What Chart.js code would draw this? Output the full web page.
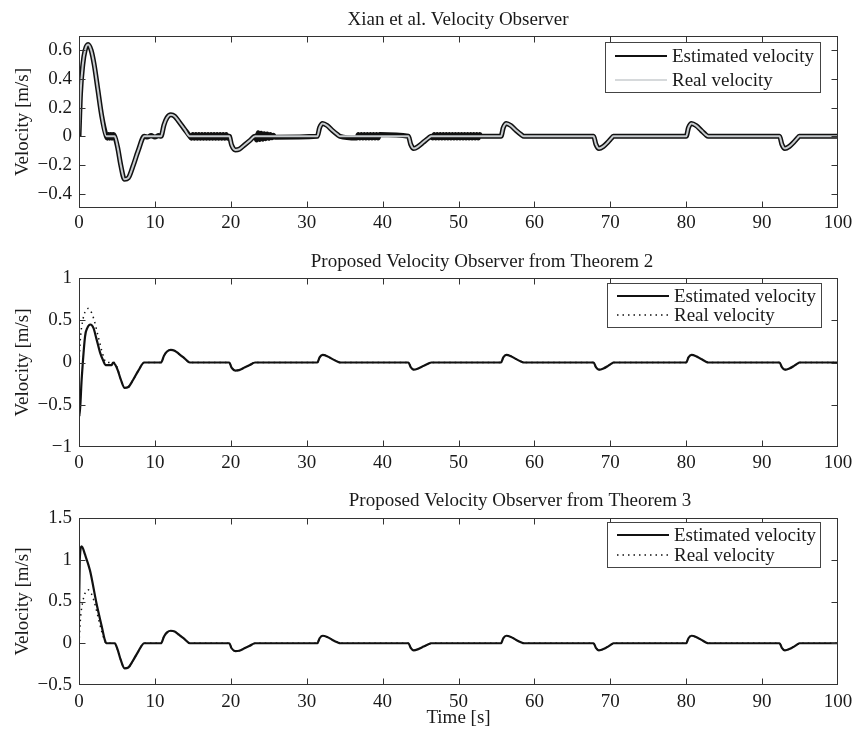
<!DOCTYPE html>
<html>
<head>
<meta charset="utf-8">
<script src="https://cdn.jsdelivr.net/npm/chart.js@4.4.1/dist/chart.umd.min.js"></script>
<style>
  body { margin: 0; background: #fff; }
  #wrap { position: relative; width: 852px; height: 729px; }
  canvas { position: absolute; left: 0; }
</style>
</head>
<body>
<div id="wrap">
  <canvas id="c1" width="852" height="240" style="top:0px"></canvas>
  <canvas id="c2" width="852" height="250" style="top:240px"></canvas>
  <canvas id="c3" width="852" height="259" style="top:470px"></canvas>
</div>
<script>
const titles = [
  "Xian et al. Velocity Observer",
  "Proposed Velocity Observer from Theorem 2",
  "Proposed Velocity Observer from Theorem 3"
];
const seriesNames = ["Estimated velocity", "Real velocity"];
const yLabel = "Velocity [m/s]";
const xLabel = "Time [s]";

const xTicks = [0, 10, 20, 30, 40, 50, 60, 70, 80, 90, 100];
const yTicks1 = [-0.4, -0.2, 0, 0.2, 0.4, 0.6];
const yTicks2 = [-1, -0.5, 0, 0.5, 1];
const yTicks3 = [-0.5, 0, 0.5, 1, 1.5];

// real velocity (same signal in all three plots)
const tReal = [
  0, 0.2, 0.5, 0.8, 1.2, 1.6, 2.0, 2.5, 3.0, 3.6,
  4.7, 5.1, 5.5, 6.0, 6.5, 7.1, 7.8, 8.6,
  10.8, 11.2, 11.6, 12.1, 12.6, 13.2, 13.9, 14.6,
  19.8, 20.1, 20.6, 21.1, 21.8, 22.5, 23.2,
  31.4, 31.7, 32.1, 32.7, 33.4, 34.1, 34.4,
  43.4, 43.7, 44.1, 44.7, 45.4, 46.1, 46.4,
  55.6, 55.9, 56.3, 56.9, 57.6, 58.3, 58.6,
  67.8, 68.1, 68.5, 69.1, 69.7, 70.2, 70.4,
  80.0, 80.3, 80.7, 81.3, 82.0, 82.6, 82.9,
  92.3, 92.6, 93.0, 93.6, 94.2, 94.7, 94.9,
  100
];
const vReal = [
  0, 0.3, 0.5, 0.6, 0.64, 0.6, 0.5, 0.32, 0.14, 0,
  0, -0.08, -0.2, -0.3, -0.29, -0.21, -0.1, 0,
  0, 0.08, 0.13, 0.15, 0.14, 0.1, 0.05, 0,
  0, -0.06, -0.095, -0.09, -0.06, -0.03, 0,
  0, 0.06, 0.09, 0.075, 0.04, 0.01, 0,
  0, -0.055, -0.085, -0.07, -0.04, -0.01, 0,
  0, 0.06, 0.09, 0.075, 0.04, 0.01, 0,
  0, -0.055, -0.085, -0.07, -0.04, -0.01, 0,
  0, 0.06, 0.09, 0.075, 0.04, 0.01, 0,
  0, -0.055, -0.085, -0.07, -0.04, -0.01, 0,
  0
];

// Xian observer: chattering around zero in the flat parts (one pair of arrays per stretch)
const tChatA = [3.75, 3.9, 4.05, 4.2, 4.35, 4.5];
const vChatA = [-0.013, 0.013, -0.013, 0.013, -0.013, 0.013];
const tChatB = [9.0, 9.5, 10.0, 10.5];
const vChatB = [-0.005, 0.005, -0.005, 0.005];
const tChatC = [14.8, 15.0, 15.2, 15.4, 15.6, 15.8, 16.0, 16.2, 16.4, 16.6, 16.8, 17.0, 17.2,
  17.4, 17.6, 17.8, 18.0, 18.2, 18.4, 18.6, 18.8, 19.0, 19.2, 19.4, 19.6];
const vChatC = [-0.013, 0.013, -0.013, 0.013, -0.013, 0.013, -0.013, 0.013, -0.013, 0.013, -0.013, 0.013, -0.013,
  0.013, -0.013, 0.013, -0.013, 0.013, -0.013, 0.013, -0.013, 0.013, -0.013, 0.013, -0.013];
const tChatD = [23.4, 23.6, 23.8, 24.0, 24.2, 24.4, 24.6, 24.8, 25.0, 25.2, 25.4, 25.6, 25.8];
const vChatD = [-0.025, 0.025, -0.022, 0.022, -0.02, 0.018, -0.016, 0.016, -0.014, 0.012, -0.01, 0.008, -0.006];
const tChatE = [36.6, 36.8, 37.0, 37.2, 37.4, 37.6, 37.8, 38.0, 38.2, 38.4, 38.6, 38.8, 39.0, 39.2, 39.4, 39.6];
const vChatE = [-0.012, 0.012, -0.012, 0.012, -0.012, 0.012, -0.012, 0.012, -0.012, 0.012, -0.012, 0.012, -0.012, 0.012, -0.012, 0.012];
const tChatF = [46.6, 46.8, 47.0, 47.2, 47.4, 47.6, 47.8, 48.0, 48.2, 48.4, 48.6, 48.8, 49.0, 49.2, 49.4, 49.6, 49.8,
  50.0, 50.2, 50.4, 50.6, 50.8, 51.0, 51.2, 51.4, 51.6, 51.8, 52.0, 52.2, 52.4, 52.6, 52.8, 53.0];
const vChatF = [-0.012, 0.012, -0.012, 0.012, -0.012, 0.012, -0.012, 0.012, -0.012, 0.012, -0.012, 0.012, -0.012, 0.012, -0.012, 0.012, -0.012,
  0.012, -0.012, 0.012, -0.012, 0.012, -0.012, 0.012, -0.012, 0.012, -0.012, 0.012, -0.012, 0.012, -0.012, 0.012, 0];

// Theorem 2 / 3 observers: transient at start, then they follow the real velocity
const tHead2 = [0, 0.06, 0.35, 0.8, 1.1, 1.5, 1.9, 2.3, 2.8, 3.2, 3.5, 4.3, 4.5, 4.8, 5.1];
const vHead2 = [-0.4, -0.64, -0.2, 0.31, 0.41, 0.45, 0.41, 0.28, 0.11, 0.02, -0.03, -0.03, 0, -0.03, -0.09];
const tHead3 = [0, 0.1, 0.35, 0.8, 1.45, 2.3, 3.0, 3.4, 3.6, 4.7, 5.1];
const vHead3 = [0.3, 1.0, 1.16, 1.06, 0.87, 0.48, 0.2, 0.04, 0, 0, -0.08];

const FONT = '"Liberation Serif", "Times New Roman", serif';
const TXT = "#1a1a1a";

function pts(t, v) {
  return t.map((x, i) => ({ x: x, y: v[i] }));
}

const realPts = pts(tReal, vReal);
const chatter = [].concat(
  pts(tChatA, vChatA), pts(tChatB, vChatB), pts(tChatC, vChatC),
  pts(tChatD, vChatD), pts(tChatE, vChatE), pts(tChatF, vChatF)
);
const est1 = realPts.concat(chatter).sort((a, b) => a.x - b.x);
const tailPts = realPts.filter(p => p.x >= 5.5);
const est2 = pts(tHead2, vHead2).concat(tailPts);
const est3 = pts(tHead3, vHead3).concat(tailPts);

const matlabPlugin = {
  id: "matlab",
  afterDraw(chart, args, o) {
    const ctx = chart.ctx;
    const a = chart.chartArea;
    const xs = chart.scales.x, ys = chart.scales.y;
    ctx.save();
    // box and inward ticks
    ctx.strokeStyle = "#333";
    ctx.lineWidth = 1;
    const L = Math.round(a.left) + 0.5, R = Math.round(a.right) - 0.5;
    const T = Math.round(a.top) + 0.5, B = Math.round(a.bottom) - 0.5;
    ctx.strokeRect(L, T, R - L, B - T);
    ctx.beginPath();
    xs.ticks.forEach(tk => {
      const px = Math.round(xs.getPixelForValue(tk.value)) + 0.5;
      if (px <= L + 1 || px >= R - 1) return;
      ctx.moveTo(px, B); ctx.lineTo(px, B - 6);
      ctx.moveTo(px, T); ctx.lineTo(px, T + 6);
    });
    ys.ticks.forEach(tk => {
      const py = Math.round(ys.getPixelForValue(tk.value)) + 0.5;
      if (py <= T + 1 || py >= B - 1) return;
      ctx.moveTo(L, py); ctx.lineTo(L + 6, py);
      ctx.moveTo(R, py); ctx.lineTo(R - 6, py);
    });
    ctx.stroke();

    // title
    ctx.fillStyle = TXT;
    ctx.font = "19px " + FONT;
    ctx.textAlign = "center";
    ctx.textBaseline = "alphabetic";
    ctx.fillText(o.title, o.titleX, o.titleY);

    // legend box
    const lg = o.legend;
    ctx.fillStyle = "#fff";
    ctx.fillRect(lg.x, lg.y, lg.w, lg.h);
    ctx.strokeStyle = "#444";
    ctx.lineWidth = 1;
    ctx.strokeRect(lg.x + 0.5, lg.y + 0.5, lg.w, lg.h);
    chart.data.datasets.forEach((ds, i) => {
      const yy = lg.y + lg.rows[i];
      ctx.beginPath();
      ctx.strokeStyle = ds.borderColor;
      ctx.lineWidth = lg.widths[i];
      ctx.setLineDash(ds.borderDash || []);
      ctx.moveTo(lg.x + 10, yy);
      ctx.lineTo(lg.x + 62, yy);
      ctx.stroke();
      ctx.setLineDash([]);
      ctx.fillStyle = TXT;
      ctx.textAlign = "left";
      ctx.textBaseline = "middle";
      ctx.fillText(ds.label, lg.x + 67, yy + 1);
    });
    ctx.restore();
  }
};

function makeChart(id, c) {
  return new Chart(document.getElementById(id), {
    type: "line",
    data: {
      datasets: [
        {
          label: seriesNames[0], data: c.est, borderColor: "#111",
          borderWidth: c.estWidth, pointRadius: 0,
          cubicInterpolationMode: "monotone", order: 1
        },
        {
          label: seriesNames[1], data: c.real, borderColor: c.realColor,
          borderWidth: c.realWidth, borderDash: c.realDash, pointRadius: 0,
          cubicInterpolationMode: "monotone", order: 0
        }
      ]
    },
    options: {
      responsive: false,
      animation: false,
      events: [],
      layout: { padding: { left: 0, right: 14, top: c.top, bottom: 0 } },
      plugins: {
        legend: { display: false },
        tooltip: { enabled: false },
        matlab: { title: c.title, titleX: c.titleX, titleY: c.titleY, legend: c.legend }
      },
      scales: {
        x: {
          type: "linear", min: 0, max: 100,
          afterBuildTicks: s => { s.ticks = xTicks.map(v => ({ value: v })); },
          afterFit: s => { s.height = c.h - c.bottom; s.paddingLeft = 0; s.paddingRight = 0; },
          grid: { display: false, drawTicks: false }, border: { display: false },
          ticks: { font: { family: FONT, size: 19 }, color: TXT, padding: c.xPad, maxRotation: 0 },
          title: c.xTitle
            ? { display: true, text: xLabel, font: { family: FONT, size: 19 }, color: TXT, padding: { top: 0, bottom: 0 } }
            : { display: false }
        },
        y: {
          min: c.yMin, max: c.yMax,
          afterBuildTicks: s => { s.ticks = c.yTicks.map(v => ({ value: v })); },
          afterFit: s => { s.width = 79; s.paddingTop = 0; s.paddingBottom = 0; },
          grid: { display: false, drawTicks: false }, border: { display: false },
          ticks: {
            font: { family: FONT, size: 19 }, color: TXT, padding: 7,
            callback: v => String(v).replace("-", "\u2212")
          },
          title: { display: true, text: yLabel, font: { family: FONT, size: 19 }, color: TXT, padding: { top: 12, bottom: 0 } }
        }
      }
    },
    plugins: [matlabPlugin]
  });
}

makeChart("c1", {
  est: est1, real: realPts, estWidth: 5, realWidth: 2, realColor: "#c8cccf", realDash: [],
  h: 240, top: 36, bottom: 208, xPad: 4, xTitle: false,
  yMin: -0.5, yMax: 0.7, yTicks: yTicks1,
  title: titles[0], titleX: 458, titleY: 25,
  legend: { x: 605, y: 42, w: 215, h: 50, rows: [14, 38], widths: [2.2, 1.5] }
});
makeChart("c2", {
  est: est2, real: realPts, estWidth: 2.2, realWidth: 1.5, realColor: "#111", realDash: [1.5, 4],
  h: 250, top: 38, bottom: 207, xPad: 5, xTitle: false,
  yMin: -1, yMax: 1, yTicks: yTicks2,
  title: titles[1], titleX: 482, titleY: 27,
  legend: { x: 607, y: 43, w: 214, h: 44, rows: [13, 32], widths: [2.2, 1.5] }
});
makeChart("c3", {
  est: est3, real: realPts, estWidth: 2.2, realWidth: 1.5, realColor: "#111", realDash: [1.5, 4],
  h: 259, top: 48, bottom: 215, xPad: 5.5, xTitle: true,
  yMin: -0.5, yMax: 1.5, yTicks: yTicks3,
  title: titles[2], titleX: 520, titleY: 36,
  legend: { x: 607, y: 52, w: 213, h: 45, rows: [13, 33], widths: [2.2, 1.5] }
});
</script>
</body>
</html>
